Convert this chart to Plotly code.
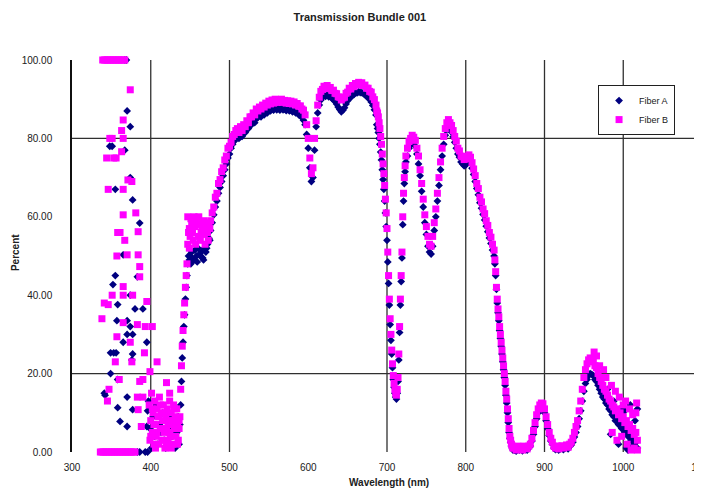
import plotly.graph_objects as go

title_text = "Transmission Bundle 001"
x_title = "Wavelength (nm)"
y_title = "Percent"
series_names = ["Fiber A", "Fiber B"]
x_tick_vals = [300, 400, 500, 600, 700, 800, 900, 1000, 1100]
y_tick_vals = [0, 20, 40, 60, 80, 100]
y_tick_text = ["0.00", "20.00", "40.00", "60.00", "80.00", "100.00"]
x_grid_nm = [400, 500, 700, 800, 900, 1000]
y_grid_pct = [20, 80]

# sampled wavelengths of the main spectrum
wavelength_nm = (list(range(437, 450)) + list(range(450, 687, 2)) + list(range(687, 725))
                 + list(range(726, 837, 2)) + list(range(837, 861)) + list(range(862, 1019, 2)))

fiber_b_pct = [
    # 437-449
    9, 16, 22, 27, 31, 35, 38, 42, 45, 48, 53, 56, 52,
    # 450-686 step 2
    55, 58.5, 54, 57.5, 59.5, 55, 58, 56, 58.5, 55.5,
    57, 56, 58.5, 59, 61, 62.5, 65, 66, 68.5, 69.5,
    71.5, 72.5, 74.5, 75.5, 77.5, 78, 79, 80.5, 81, 82,
    82.5, 81.5, 83, 82, 83.5, 83, 84.5, 84, 85.5, 85.5,
    86.5, 86, 87.5, 87, 88, 87.5, 88.5, 88, 89, 88.5,
    89.5, 88.8, 89.8, 89, 90, 89.2, 89.8, 89.3, 90, 89.2,
    89.7, 89, 89.6, 88.9, 89.5, 88.8, 89.3, 88.5, 88.9, 88.2,
    88.3, 87.5, 87.2, 86, 83.5, 80, 75, 71, 72.5, 80,
    84.5, 88.5, 90.5, 92, 92.5, 93.3, 92.8, 93.5, 92.7, 93,
    92.2, 92.3, 91.5, 91.4, 90.6, 90.5, 89.8, 90.3, 90.5, 91.5,
    91.8, 92.8, 92.6, 93.5, 93.2, 94, 93.6, 94.3, 93.8, 94.2,
    93.5, 93.6, 92.8, 92.8, 92, 91.8, 90.6, 89.9, 88.5,
    # 687-724
    87, 86.5, 85.5, 84, 82.5, 80.5, 78.5, 76, 73.5, 71,
    68, 64.5, 61, 57, 51, 45, 39, 34, 30, 26,
    22.5, 19.5, 17.5, 16, 15, 14.5, 16, 19, 25, 32,
    39, 45, 51, 60, 66, 70, 73, 75.5,
    # 726-836 step 2
    77.5, 79.2, 80, 80.8, 80.3, 79.5, 77.5, 75.5, 72, 68.5,
    64.5, 60.5, 57.5, 55, 53, 52.5, 55, 58.5, 62, 66,
    70, 74, 77.5, 80.5, 82.5, 84, 84.8, 84, 83.3, 82,
    80.5, 79.3, 77.5, 76.8, 75.5, 75.3, 74.6, 74.8, 75.4, 75.8,
    75.2, 73.8, 72.2, 70.5, 68.5, 67.2, 65, 63.8, 62, 60.8,
    59, 57.8, 56, 54.8, 53, 51.5,
    # 837-860
    49, 46, 42, 39, 36.5, 34.5, 32, 30, 28, 26,
    24, 22, 20, 18, 15.5, 13.5, 11, 8.5, 6, 4,
    3, 2, 1.5, 1,
    # 862-1018 step 2
    1, 0.5, 1.5, 0.8, 1.2, 0.5, 1.5, 1, 0.8, 1.5,
    2, 3.5, 5.5, 7.5, 9.5, 11, 12, 12.5, 12.3, 11,
    9, 7, 5, 3.5, 2.5, 1.5, 1, 1.5, 0.8, 1.2,
    1.6, 1, 1.4, 1.8, 1.2, 2, 2.5, 3.5, 5, 6.5,
    8, 10.5, 13, 16, 19, 21, 22.5, 23.5, 24, 23.5,
    23, 22, 21.5, 20, 19, 18, 17, 16, 15.5, 14.5,
    13.5, 13, 12, 11.5, 10.5, 11, 9.5, 10, 8.5, 9,
    7.5, 8, 6.5, 7, 5.5, 6, 4.5, 5, 3,
]

fiber_a_pct = [
    # 437-449
    7, 12, 18, 24, 28, 32, 35, 39, 42, 45, 48, 50, 49,
    # 450-686 step 2
    50, 51, 49, 51.5, 50, 52, 50.5, 51, 49.5, 52,
    51, 53, 54.5, 56.5, 58.5, 60.5, 62.5, 64, 66, 67.5,
    69, 70.5, 72, 73.5, 75, 76, 77.5, 78.5, 79.3, 80,
    80.5, 80, 81, 80.5, 81.5, 81.5, 82.5, 82.5, 83.5, 83.5,
    84.5, 84, 85, 85.3, 86, 85.5, 86.5, 86, 87, 86.5,
    87.3, 87, 87.5, 87.2, 87.8, 87.3, 87.6, 87.2, 87.7, 87.3,
    87.5, 87.1, 87.4, 87, 87.2, 86.8, 87, 86.5, 86.6, 86,
    85.8, 85.3, 84.6, 83.5, 81, 77.5, 72.5, 69, 70, 77,
    83, 86.5, 88.5, 89.8, 90.5, 91, 90.7, 91.1, 90.6, 90.8,
    90.2, 89.9, 89.4, 88.8, 88, 87.4, 86.8, 87.2, 87.8, 88.8,
    89.6, 90.2, 90.5, 91, 91.2, 91.6, 91.6, 91.9, 91.7, 91.7,
    91.4, 91.2, 90.7, 90.5, 89.9, 89.3, 88.4, 87.3, 86,
    # 687-724
    83.5, 82.5, 81.5, 80, 78.5, 76.5, 74.5, 72, 69.5, 67,
    64, 61, 57.5, 54, 48.5, 43, 37.5, 32.5, 28.5, 25,
    21.5, 18.5, 16.5, 15, 14, 13.5, 15, 18, 23.5, 30.5,
    37.5, 43.5, 49.5, 58, 64, 68.5, 71.5, 74,
    # 726-836 step 2
    75.5, 77.5, 78.5, 79.3, 79, 78, 76, 73.5, 70.5, 66.5,
    62.5, 58.5, 55.5, 52.5, 51, 50.5, 52.5, 56.5, 60, 64,
    68, 72, 75.5, 78.5, 80.8, 82.3, 83, 82.5, 81.6, 80.4,
    79, 77.5, 76, 75.2, 74, 73.5, 73, 73.2, 73.8, 74.2,
    73.8, 72.4, 70.8, 69, 67.2, 65.6, 63.6, 62.2, 60.6, 59.2,
    57.6, 56.2, 54.6, 53.2, 51.5, 50,
    # 837-860
    48, 45, 41.5, 38, 35.5, 33.5, 31, 29, 27, 25,
    23, 21, 19, 17, 14.5, 12.5, 10, 7.5, 5, 3.5,
    2.5, 1.5, 1, 0.5,
    # 862-1018 step 2
    0.5, 0.2, 1, 0.5, 0.8, 0.3, 1, 0.6, 0.5, 1,
    1.5, 2.8, 4.5, 6.5, 8.5, 10, 11, 11.5, 11.2, 10,
    8, 6, 4.2, 2.8, 2, 1, 0.6, 1, 0.5, 0.8,
    1.2, 0.6, 1, 1.3, 0.8, 1.5, 1.8, 2.5, 3.8, 5,
    6.5, 8.5, 10.5, 13, 15.5, 17.5, 18.5, 19.5, 20, 19.8,
    19.5, 18.5, 18, 17, 16, 15, 14, 13.5, 12.5, 12,
    11, 10.5, 9.5, 9, 8, 8.5, 7, 7.5, 6, 6.5,
    5, 5.5, 4, 4.5, 3, 3.5, 2, 2.5, 1,
]

# scattered readings (noisy UV end, blob near 450 nm, noisy IR tail): (nm, percent)
fiber_b_scatter = [
    (339, 100), (341, 100), (343, 100), (345, 100), (347, 100), (349, 100), (351, 100), (353, 100),
    (355, 100), (357, 100), (359, 100), (361, 100), (363, 100), (365, 100), (367, 100),
    (336, 0), (338, 0), (340, 0), (342, 0), (344, 0), (346, 0), (348, 0), (350, 0), (352, 0),
    (354, 0), (356, 0), (358, 0), (360, 0), (362, 0), (364, 0), (366, 0), (368, 0), (370, 0),
    (372, 0), (374, 0), (376, 0), (378, 0), (380, 0),
    (374, 92.4), (365, 84.7), (363, 82), (351, 80), (348, 80), (365, 80), (363, 76.6), (344, 75),
    (353, 75), (356, 75), (371, 69.4), (376, 69), (346, 67), (365, 67), (365, 60.5), (381, 61),
    (361, 56), (358, 56), (384, 56.2), (367, 54), (357, 50), (370, 50.3), (384, 50.3), (386, 47.3),
    (386, 44.7), (365, 42.2), (351, 40), (365, 40), (377, 40), (346, 37.6), (341, 38), (395, 38.4),
    (338, 34), (365, 33), (383, 32.5), (393, 32), (357, 29.4), (402, 32), (374, 28), (392, 25.3),
    (355, 23), (376, 23), (408, 23), (399, 20.5), (360, 18.5), (386, 18), (390, 18.5), (420, 17.7),
    (345, 13), (347, 16), (383, 14), (390, 14), (424, 15), (384, 10.8), (388, 6.5),
    (398, 12), (399, 3), (400, 8), (401, 15), (402, 5), (403, 10), (404, 2), (405, 13), (406, 7),
    (407, 4), (408, 11), (409, 9), (410, 2), (411, 14), (412, 6), (413, 10), (414, 3), (415, 8),
    (416, 12), (417, 5), (418, 1), (419, 9), (420, 6), (421, 11), (422, 3), (423, 8), (424, 13),
    (425, 4), (426, 10), (427, 7), (428, 2), (429, 12), (430, 6), (431, 9), (432, 4), (433, 11),
    (434, 7), (435, 3), (436, 8), (400, 4), (402, 11), (404, 7), (406, 1), (408, 5), (410, 9),
    (412, 12), (414, 6), (416, 3), (418, 10), (420, 2), (422, 7), (424, 5), (426, 1), (428, 8),
    (430, 11), (432, 8), (434, 2), (436, 6),
    (447, 60), (449, 57), (451, 59.5), (453, 56), (455, 60), (457, 53), (459, 58), (461, 60),
    (463, 54), (465, 57), (467, 59), (469, 53), (471, 56), (473, 54), (475, 57),
    (963, 25.5), (966, 24.5), (970, 22), (975, 21), (978, 19), (985, 17), (990, 15.5), (995, 14),
    (998, 4), (1003, 13), (1005, 2), (1008, 11), (1010, 0.5), (1012, 9.5), (1014, 1), (1016, 10),
    (1017, 12.5), (1018, 0.5), (986, 5), (992, 3), (1000, 12),
]

fiber_a_scatter = [
    (367, 100), (369, 100), (370, 87), (374, 83), (351, 78), (348, 78), (367, 77), (374, 70),
    (355, 67), (377, 64.3), (386, 58.4), (365, 50.3), (383, 44.7), (352, 42.7), (355, 45),
    (374, 40), (358, 37.6), (380, 36.5), (390, 36.5), (357, 33.5), (370, 33.5), (374, 32),
    (370, 30), (377, 30), (365, 28), (395, 28), (349, 25.3), (353, 25.3), (356, 25.3), (377, 25),
    (376, 23.5), (349, 20), (358, 18.5), (342, 14.5), (341, 15), (370, 14), (397, 13), (358, 11.3),
    (377, 10.8), (396, 10.5), (361, 7.8), (370, 6.5), (395, 6.5), (383, 0), (386, 0), (393, 0),
    (396, 0),
    (399, 6), (401, 1), (403, 9), (405, 4), (407, 12), (409, 2), (411, 7), (413, 5), (415, 10),
    (417, 3), (419, 1), (421, 8), (423, 2), (425, 9), (427, 4), (429, 6), (431, 1), (433, 5),
    (435, 9), (436, 2),
    (451, 48), (455, 49), (459, 48.5), (463, 50), (467, 49), (471, 52), (475, 54),
    (980, 16), (984, 4.5), (988, 13), (994, 2), (996, 11), (1002, 10.5), (1004, 1), (1006, 0.5),
    (1009, 12), (1012, 1.5), (1015, 8), (1018, 11),
]

navy = "#000080"
magenta = "#FF00FF"
font_family = "Arial, Liberation Sans, sans-serif"
text_color = "#202020"

a_x = [p[0] for p in fiber_a_scatter] + wavelength_nm
a_y = [p[1] for p in fiber_a_scatter] + fiber_a_pct
b_x = [p[0] for p in fiber_b_scatter] + wavelength_nm
b_y = [p[1] for p in fiber_b_scatter] + fiber_b_pct

fig = go.Figure()
fig.add_trace(go.Scatter(
    x=a_x, y=a_y, mode="markers", name=series_names[0], cliponaxis=False,
    marker=dict(symbol="diamond", size=6, color=navy, line=dict(width=0)),
))
fig.add_trace(go.Scatter(
    x=b_x, y=b_y, mode="markers", name=series_names[1], cliponaxis=False,
    marker=dict(symbol="square", size=7, color=magenta, line=dict(width=0)),
))

shapes = []
for g in x_grid_nm:
    shapes.append(dict(type="line", xref="x", yref="paper", x0=g, x1=g, y0=0, y1=1,
                       line=dict(color="#303030", width=1.3), layer="below"))
for g in y_grid_pct:
    shapes.append(dict(type="line", xref="paper", yref="y", x0=0, x1=1, y0=g, y1=g,
                       line=dict(color="#303030", width=1.3), layer="below"))

# the page body adds an 8 px offset, so the figure is sized and margined to compensate
fig.update_layout(
    width=694, height=484,
    margin=dict(l=64, r=0, t=52, b=40, autoexpand=False),
    paper_bgcolor="white", plot_bgcolor="white",
    font=dict(family=font_family, size=10, color=text_color),
    title=dict(text=title_text, x=0.507, xanchor="center", y=0.981, yanchor="middle",
               font=dict(family=font_family, size=11, color=text_color, weight="bold")),
    xaxis=dict(range=[300, 1100], tickvals=x_tick_vals, showgrid=False, zeroline=False,
               showline=False, ticks="outside", ticklen=6, tickcolor="rgba(0,0,0,0)",
               tickfont=dict(size=10), ticklabeloverflow="allow", automargin=False),
    yaxis=dict(range=[0, 100], tickvals=y_tick_vals, ticktext=y_tick_text, showgrid=False,
               zeroline=False, showline=True, linecolor="#101010", linewidth=1.5,
               ticks="outside", ticklen=16, tickcolor="rgba(0,0,0,0)", tickfont=dict(size=10),
               automargin=False),
    shapes=shapes,
    legend=dict(x=0.835, y=0.936, xanchor="left", yanchor="top", bgcolor="white",
                bordercolor="#202020", borderwidth=1, font=dict(size=9),
                itemwidth=30, tracegroupgap=0),
    annotations=[
        dict(text=x_title, xref="paper", yref="paper", x=0.503, y=-0.079, xanchor="center",
             yanchor="middle", showarrow=False,
             font=dict(family=font_family, size=10, color=text_color, weight="bold")),
        dict(text=y_title, xref="paper", yref="paper", x=-0.0905, y=0.51, xanchor="center",
             yanchor="middle", showarrow=False, textangle=-90,
             font=dict(family=font_family, size=10, color=text_color, weight="bold")),
    ],
)

fig.write_html("out.html")
